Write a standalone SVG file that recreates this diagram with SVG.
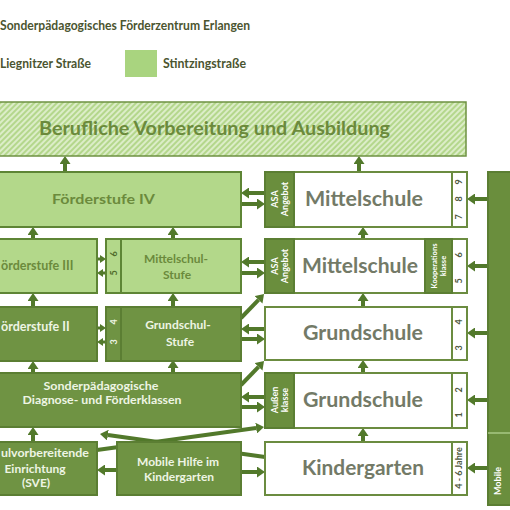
<svg xmlns="http://www.w3.org/2000/svg" width="510" height="510" viewBox="0 0 510 510">
<defs>
<pattern id="hatch" patternUnits="userSpaceOnUse" width="4" height="4" patternTransform="rotate(45)">
<rect width="4" height="4" fill="#dcedc8"/>
<rect width="2" height="4" fill="#b4d78c"/>
</pattern>
<marker id="ah" markerUnits="userSpaceOnUse" markerWidth="8" markerHeight="11" refX="0" refY="5.5" orient="auto" viewBox="0 0 8 11">
<path d="M0,0 L8,5.5 L0,11 z" fill="#52792b"/>
</marker>
<marker id="as" markerUnits="userSpaceOnUse" markerWidth="6" markerHeight="8" refX="0" refY="4" orient="auto" viewBox="0 0 6 8">
<path d="M0,0 L6,4 L0,8 z" fill="#52792b"/>
</marker>
<style>
.t{font-family:Lato,"Open Sans","Liberation Sans",sans-serif;font-weight:bold}
.lt{fill:#b3d88a;stroke:#5e8535;stroke-width:2}
.md{fill:#6f9343;stroke:#5b7e33;stroke-width:2}
.dk{fill:#6a8e3d;stroke:#5b7e33;stroke-width:2}
.wh{fill:#ffffff;stroke:#6b8c40;stroke-width:2}
.c line{stroke:#52792b;stroke-width:4;marker-end:url(#ah)}
.c line.s{stroke-width:3;marker-end:url(#as)}
.tl{fill:#6b8a3c}
.tw{fill:#737a67}
.tm{fill:#eef5e4}
.num{font-family:Lato,"Liberation Sans",sans-serif;font-weight:bold;font-size:9px;fill:#4f5a40}
.rot{font-family:Lato,"Liberation Sans",sans-serif;font-weight:bold;fill:#ffffff}
</style>
</defs>
<rect width="510" height="510" fill="#ffffff"/>

<g id="title">
<text class="t" x="0" y="30" font-size="12.5" fill="#4b5530" textLength="250" lengthAdjust="spacingAndGlyphs">Sonderpädagogisches Förderzentrum Erlangen</text>
</g>
<g id="legend">
<text class="t" x="0" y="68" font-size="12.5" fill="#4b5530" textLength="91" lengthAdjust="spacingAndGlyphs">Liegnitzer Straße</text>
<rect x="125" y="50" width="32" height="27" fill="#a9d47f"/>
<text class="t" x="163" y="68" font-size="12.5" fill="#4b5530" textLength="83" lengthAdjust="spacingAndGlyphs">Stintzingstraße</text>
</g>

<g id="connectors" class="c">
<line x1="97" y1="450" x2="256.1" y2="428.1"/>
<line x1="265" y1="457" x2="107.9" y2="435.1"/>
<line x1="65" y1="172" x2="65" y2="164"/>
<line x1="359" y1="172" x2="359" y2="164"/>
<line x1="33" y1="239" x2="33" y2="235"/>
<line x1="173" y1="239" x2="173" y2="235"/>
<line x1="363" y1="239" x2="363" y2="235"/>
<line x1="33" y1="307" x2="33" y2="301"/>
<line x1="173" y1="307" x2="173" y2="301"/>
<line x1="363" y1="307" x2="363" y2="301"/>
<line x1="33" y1="373" x2="33" y2="369"/>
<line x1="173" y1="373" x2="173" y2="368"/>
<line x1="363" y1="373" x2="363" y2="368"/>
<line x1="33" y1="442" x2="33" y2="435"/>
<line x1="363" y1="442" x2="363" y2="436"/>
<line x1="265" y1="193" x2="249" y2="193"/>
<line x1="241" y1="204" x2="257" y2="204"/>
<line x1="488" y1="199" x2="475" y2="199"/>
<line class="s" x1="97" y1="259" x2="100" y2="259"/>
<line class="s" x1="106" y1="273" x2="103" y2="273"/>
<line x1="265" y1="262" x2="249" y2="262"/>
<line x1="241" y1="273" x2="257" y2="273"/>
<line x1="488" y1="266" x2="475" y2="266"/>
<line class="s" x1="97" y1="328" x2="100" y2="328"/>
<line class="s" x1="106" y1="342" x2="103" y2="342"/>
<line x1="265" y1="329" x2="249" y2="329"/>
<line x1="241" y1="339" x2="257" y2="339"/>
<line x1="241" y1="318" x2="258.5" y2="299.8"/>
<line x1="488" y1="333" x2="475" y2="333"/>
<line x1="265" y1="397" x2="249" y2="397"/>
<line x1="241" y1="407" x2="257" y2="407"/>
<line x1="241" y1="385" x2="258.5" y2="366.8"/>
<line x1="488" y1="400" x2="475" y2="400"/>
<line x1="117" y1="470" x2="105" y2="470"/>
<line x1="241" y1="472" x2="257" y2="472"/>
<line x1="488" y1="468" x2="475" y2="468"/>
</g>

<g id="ausbildung">
<rect x="-5" y="102" width="471" height="54" fill="url(#hatch)" stroke="#6e9142" stroke-width="1.5"/>
<text class="t tl" x="39" y="135" font-size="18" textLength="351" lengthAdjust="spacingAndGlyphs">Berufliche Vorbereitung und Ausbildung</text>
</g>

<g id="foerderstufe4">
<rect class="lt" x="-5" y="172" width="246" height="55"/>
<text class="t tl" x="52" y="204" font-size="14" textLength="103" lengthAdjust="spacingAndGlyphs">Förderstufe IV</text>
</g>

<g id="mittelschule1">
<rect class="wh" x="265" y="172" width="202" height="55"/>
<rect class="dk" x="265" y="172" width="29" height="55"/>
<line x1="452" y1="172" x2="452" y2="227" stroke="#6b8c40" stroke-width="2"/>
<text class="t tw" x="305" y="206" font-size="20" textLength="118" lengthAdjust="spacingAndGlyphs">Mittelschule</text>
<g transform="translate(280,199) rotate(-90)"><text class="rot" font-size="9" text-anchor="middle" y="-2">ASA</text><text class="rot" font-size="9" text-anchor="middle" y="8">Angebot</text></g>
<text class="num" transform="translate(462,217) rotate(-90)" text-anchor="middle">7</text>
<text class="num" transform="translate(462,199) rotate(-90)" text-anchor="middle">8</text>
<text class="num" transform="translate(462,182) rotate(-90)" text-anchor="middle">9</text>
</g>

<g id="foerderstufe3">
<rect class="lt" x="-5" y="239" width="102" height="54"/>
<text class="t tl" x="1" y="270" font-size="12.5">örderstufe III</text>
</g>

<g id="mittelschulstufe">
<rect class="lt" x="106" y="239" width="15" height="54"/>
<rect class="lt" x="121" y="239" width="120" height="54"/>
<text class="num" transform="translate(117,254) rotate(-90)" text-anchor="middle" style="fill:#4f6b2a">6</text>
<text class="num" transform="translate(117,273) rotate(-90)" text-anchor="middle" style="fill:#4f6b2a">5</text>
<text class="t tl" x="176" y="263" font-size="12" text-anchor="middle">Mittelschul-</text>
<text class="t tl" x="177" y="279" font-size="12" text-anchor="middle">Stufe</text>
</g>

<g id="mittelschule2">
<rect class="wh" x="265" y="239" width="202" height="54"/>
<rect class="dk" x="265" y="239" width="29" height="54"/>
<rect class="dk" x="425" y="239" width="27" height="54"/>
<text class="t tw" x="302" y="273" font-size="20" textLength="116" lengthAdjust="spacingAndGlyphs">Mittelschule</text>
<g transform="translate(280,266) rotate(-90)"><text class="rot" font-size="9" text-anchor="middle" y="-2">ASA</text><text class="rot" font-size="9" text-anchor="middle" y="8">Angebot</text></g>
<g transform="translate(438,266) rotate(-90)"><text class="rot" font-size="7.5" text-anchor="middle" y="-1">Kooperations</text><text class="rot" font-size="7.5" text-anchor="middle" y="8">klasse</text></g>
<text class="num" transform="translate(462,281) rotate(-90)" text-anchor="middle">5</text>
<text class="num" transform="translate(462,255) rotate(-90)" text-anchor="middle">6</text>
</g>

<g id="foerderstufe2">
<rect class="md" x="-5" y="307" width="102" height="54"/>
<text class="t tm" x="1" y="331" font-size="12.5">örderstufe II</text>
</g>

<g id="grundschulstufe">
<rect class="md" x="106" y="307" width="15" height="54"/>
<rect class="md" x="121" y="307" width="120" height="54"/>
<text class="num" transform="translate(117,322) rotate(-90)" text-anchor="middle" style="fill:#eef5e4">4</text>
<text class="num" transform="translate(117,342) rotate(-90)" text-anchor="middle" style="fill:#eef5e4">3</text>
<text class="t tm" x="178" y="329" font-size="12" text-anchor="middle">Grundschul-</text>
<text class="t tm" x="180" y="346" font-size="12" text-anchor="middle">Stufe</text>
</g>

<g id="grundschule34">
<rect class="wh" x="265" y="307" width="202" height="53"/>
<line x1="452" y1="307" x2="452" y2="360" stroke="#6b8c40" stroke-width="2"/>
<text class="t tw" x="303" y="340" font-size="20" textLength="120" lengthAdjust="spacingAndGlyphs">Grundschule</text>
<text class="num" transform="translate(462,322) rotate(-90)" text-anchor="middle">4</text>
<text class="num" transform="translate(462,348) rotate(-90)" text-anchor="middle">3</text>
</g>

<g id="diagnose">
<rect class="md" x="-5" y="373" width="246" height="54"/>
<text class="t tm" x="101" y="390" font-size="12" text-anchor="middle" textLength="115" lengthAdjust="spacingAndGlyphs">Sonderpädagogische</text>
<text class="t tm" x="102" y="404" font-size="12" text-anchor="middle" textLength="159" lengthAdjust="spacingAndGlyphs">Diagnose- und Förderklassen</text>
</g>

<g id="grundschule12">
<rect class="wh" x="265" y="373" width="202" height="55"/>
<rect class="dk" x="265" y="373" width="29" height="55"/>
<line x1="452" y1="373" x2="452" y2="428" stroke="#6b8c40" stroke-width="2"/>
<text class="t tw" x="303" y="407" font-size="20" textLength="120" lengthAdjust="spacingAndGlyphs">Grundschule</text>
<g transform="translate(280,400) rotate(-90)"><text class="rot" font-size="9" text-anchor="middle" y="-2">Außen</text><text class="rot" font-size="9" text-anchor="middle" y="8">klasse</text></g>
<text class="num" transform="translate(462,390) rotate(-90)" text-anchor="middle">2</text>
<text class="num" transform="translate(462,415) rotate(-90)" text-anchor="middle">1</text>
</g>

<g id="sve">
<rect class="md" x="-5" y="442" width="102" height="53"/>
<text class="t tm" x="1" y="457" font-size="12" textLength="88" lengthAdjust="spacingAndGlyphs">ulvorbereitende</text>
<text class="t tm" x="35" y="473" font-size="12" text-anchor="middle">Einrichtung</text>
<text class="t tm" x="36" y="487" font-size="12" text-anchor="middle">(SVE)</text>
</g>

<g id="mobilehilfe">
<rect class="md" x="117" y="442" width="124" height="53"/>
<text class="t tm" x="178" y="466" font-size="12" text-anchor="middle">Mobile Hilfe im</text>
<text class="t tm" x="179" y="481" font-size="12" text-anchor="middle">Kindergarten</text>
</g>

<g id="kindergarten">
<rect class="wh" x="265" y="442" width="202" height="53"/>
<line x1="452" y1="442" x2="452" y2="495" stroke="#6b8c40" stroke-width="2"/>
<text class="t tw" x="302" y="475" font-size="20" textLength="122" lengthAdjust="spacingAndGlyphs">Kindergarten</text>
<text class="num" transform="translate(462,468) rotate(-90)" text-anchor="middle">4 - 6 Jahre</text>
</g>

<g id="mobiledienste">
<rect class="dk" x="488" y="172" width="30" height="333"/>
<line x1="488" y1="433" x2="512" y2="433" stroke="#a9c784" stroke-width="1.5"/>
<g transform="translate(501,495) rotate(-90)"><text class="rot" font-size="9" y="0">Mobile</text></g>
</g>
</svg>
